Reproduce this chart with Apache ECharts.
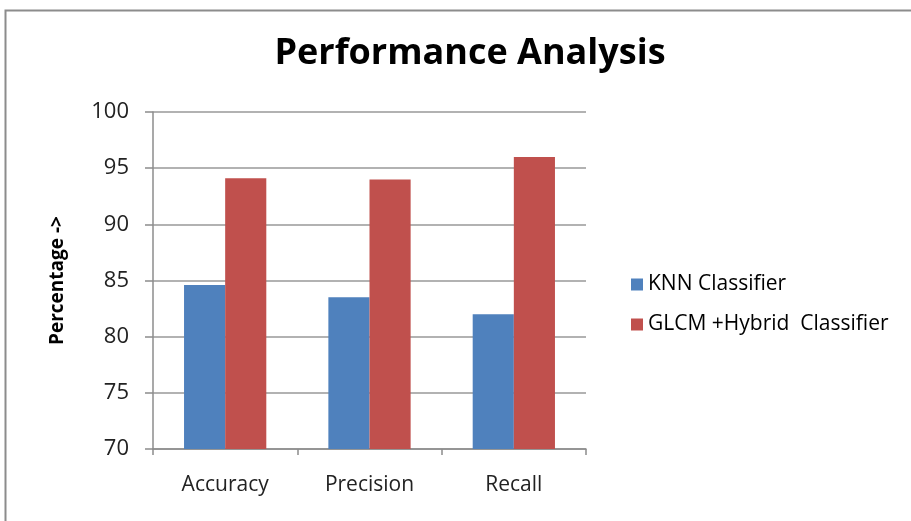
<!DOCTYPE html>
<html>
<head>
<meta charset="utf-8">
<script src="https://cdn.jsdelivr.net/npm/echarts@6/dist/echarts.min.js"></script>
<style>
  html, body { margin: 0; padding: 0; background: #fff; }
  #chart { width: 911px; height: 521px; }
</style>
</head>
<body>
<div id="chart"></div>
<script>
  const categories = ['Accuracy', 'Precision', 'Recall'];
  const knnValues = [84.6, 83.5, 82.0];
  const hybridValues = [94.1, 94.0, 96.0];
  const seriesNames = ['KNN Classifier', 'GLCM +Hybrid  Classifier'];

  const chart = echarts.init(document.getElementById('chart'));

  const font = "'Open Sans', 'Noto Sans', sans-serif";

  const options = {
    backgroundColor: '#fff',
    animation: false,
    title: {
      text: 'Performance Analysis',
      left: 465,
      top: 31,
      textAlign: 'center',
      textStyle: {
        fontFamily: font,
        fontSize: 36,
        fontWeight: 'bold',
        color: '#000'
      }
    },
    graphic: [
      {
        // 外边框
        type: 'rect',
        shape: { x: 5.5, y: 10.5, width: 930, height: 540 },
        style: { fill: 'none', stroke: '#8c8c8c', lineWidth: 2 }
      }
    ],
    legend: {
      orient: 'vertical',
      left: 626,
      top: 269,
      itemGap: 19,
      itemWidth: 12,
      itemHeight: 12,
      icon: 'rect',
      textStyle: { fontFamily: font, fontSize: 21, color: '#000' },
      data: seriesNames
    },
    grid: {
      left: 153,
      right: 325,
      top: 112,
      bottom: 72
    },
    xAxis: {
      type: 'category',
      data: categories,
      axisLine: { lineStyle: { color: '#8c8c8c', width: 1.5 } },
      axisTick: { show: true, length: 6, lineStyle: { color: '#8c8c8c', width: 1.5 } },
      axisLabel: { fontFamily: font, fontSize: 21, color: '#222', margin: 26 }
    },
    yAxis: {
      type: 'value',
      min: 70,
      max: 100,
      interval: 5,
      name: 'Percentage ->',
      nameLocation: 'middle',
      nameGap: 86,
      nameTextStyle: { fontFamily: font, fontSize: 19, fontWeight: 'bold', color: '#000' },
      axisLine: { show: true, lineStyle: { color: '#8c8c8c', width: 1.5 } },
      axisTick: { show: true, length: 8, lineStyle: { color: '#8c8c8c', width: 1.5 } },
      splitLine: { lineStyle: { color: '#999', width: 1.5 } },
      axisLabel: { fontFamily: font, fontSize: 22, color: '#222', margin: 24 }
    },
    series: [
      {
        name: seriesNames[0],
        type: 'bar',
        data: knnValues,
        barGap: '0%',
        barCategoryGap: '43%',
        itemStyle: { color: '#4F81BD' }
      },
      {
        name: seriesNames[1],
        type: 'bar',
        data: hybridValues,
        barGap: '0%',
        barCategoryGap: '43%',
        itemStyle: { color: '#C0504D' }
      }
    ]
  };

  chart.setOption(options);
</script>
</body>
</html>
